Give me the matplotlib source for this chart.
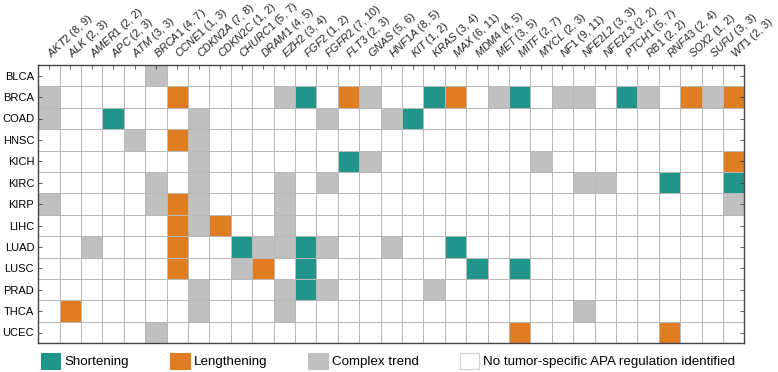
import numpy as np
import matplotlib
matplotlib.use('Agg')
import matplotlib.pyplot as plt
from matplotlib.colors import ListedColormap
from matplotlib.patches import Patch

plt.rcParams['font.family'] = ['Liberation Sans', 'DejaVu Sans']
plt.rcParams['mathtext.fontset'] = 'custom'
plt.rcParams['mathtext.it'] = 'Liberation Sans:italic'
plt.rcParams['mathtext.rm'] = 'Liberation Sans'

# genes (columns) with the two counts shown in brackets
genes = ['AKT2', 'ALK', 'AMER1', 'APC', 'ATM', 'BRCA1', 'CCNE1', 'CDKN2A', 'CDKN2C',
         'CHURC1', 'DRAM1', 'EZH2', 'FGF2', 'FGFR2', 'FLT3', 'GNAS', 'HNF1A', 'KIT',
         'KRAS', 'MAX', 'MDM4', 'MET', 'MITF', 'MYCL', 'NF1', 'NFE2L2', 'NFE2L3',
         'PTCH1', 'RB1', 'RNF43', 'SOX2', 'SUFU', 'WT1']
count_a = [8, 2, 2, 2, 3, 4, 1, 7, 1, 5, 4, 3, 1, 7, 2, 5, 8, 1, 3, 6, 4, 3, 2, 2, 9, 3, 2, 5, 2, 2, 1, 3, 2]
count_b = [9, 3, 2, 3, 3, 7, 3, 8, 2, 7, 5, 4, 2, 10, 3, 6, 5, 2, 4, 11, 5, 5, 7, 3, 11, 3, 2, 7, 2, 4, 2, 3, 3]

cancers = ['BLCA', 'BRCA', 'COAD', 'HNSC', 'KICH', 'KIRC', 'KIRP', 'LIHC', 'LUAD',
           'LUSC', 'PRAD', 'THCA', 'UCEC']

# (cancer, gene) cells for each APA class
shortening = [('BRCA', 'FGF2'), ('BRCA', 'KRAS'), ('BRCA', 'MITF'), ('BRCA', 'PTCH1'),
              ('COAD', 'APC'), ('COAD', 'KIT'), ('KICH', 'FLT3'), ('KIRC', 'RNF43'),
              ('KIRC', 'WT1'), ('LUAD', 'CHURC1'), ('LUAD', 'FGF2'), ('LUAD', 'MAX'),
              ('LUSC', 'FGF2'), ('LUSC', 'MDM4'), ('LUSC', 'MITF'), ('PRAD', 'FGF2')]
lengthening = [('BRCA', 'CCNE1'), ('BRCA', 'FLT3'), ('BRCA', 'MAX'), ('BRCA', 'SOX2'),
               ('BRCA', 'WT1'), ('HNSC', 'CCNE1'), ('KICH', 'WT1'), ('KIRP', 'CCNE1'),
               ('LIHC', 'CCNE1'), ('LIHC', 'CDKN2C'), ('LUAD', 'CCNE1'), ('LUSC', 'CCNE1'),
               ('LUSC', 'DRAM1'), ('THCA', 'ALK'), ('UCEC', 'MITF'), ('UCEC', 'RNF43')]
complex_trend = [('BLCA', 'BRCA1'),
                 ('BRCA', 'AKT2'), ('BRCA', 'EZH2'), ('BRCA', 'GNAS'), ('BRCA', 'MET'),
                 ('BRCA', 'NF1'), ('BRCA', 'NFE2L2'), ('BRCA', 'RB1'), ('BRCA', 'SUFU'),
                 ('COAD', 'AKT2'), ('COAD', 'CDKN2A'), ('COAD', 'FGFR2'), ('COAD', 'HNF1A'),
                 ('HNSC', 'ATM'), ('HNSC', 'CDKN2A'),
                 ('KICH', 'CDKN2A'), ('KICH', 'GNAS'), ('KICH', 'MYCL'),
                 ('KIRC', 'BRCA1'), ('KIRC', 'CDKN2A'), ('KIRC', 'EZH2'), ('KIRC', 'FGFR2'),
                 ('KIRC', 'NFE2L2'), ('KIRC', 'NFE2L3'),
                 ('KIRP', 'AKT2'), ('KIRP', 'BRCA1'), ('KIRP', 'CDKN2A'), ('KIRP', 'EZH2'),
                 ('KIRP', 'WT1'),
                 ('LIHC', 'CDKN2A'), ('LIHC', 'EZH2'),
                 ('LUAD', 'AMER1'), ('LUAD', 'DRAM1'), ('LUAD', 'EZH2'), ('LUAD', 'FGFR2'),
                 ('LUAD', 'HNF1A'),
                 ('LUSC', 'CHURC1'),
                 ('PRAD', 'CDKN2A'), ('PRAD', 'EZH2'), ('PRAD', 'FGFR2'), ('PRAD', 'KRAS'),
                 ('THCA', 'CDKN2A'), ('THCA', 'EZH2'), ('THCA', 'NFE2L2'),
                 ('UCEC', 'BRCA1')]

class_names = ['No tumor-specific APA regulation identified', 'Shortening', 'Lengthening', 'Complex trend']
class_colors = ['#ffffff', '#21958a', '#e07c22', '#c0c0c0']

status = np.zeros((len(cancers), len(genes)), dtype=int)
for code, cells in [(1, shortening), (2, lengthening), (3, complex_trend)]:
    for c, g in cells:
        status[cancers.index(c), genes.index(g)] = code

fig = plt.figure(figsize=(7.78, 3.72), dpi=100)
ax = fig.add_axes([38.3 / 778, 1 - 343.2 / 372, 706 / 778, 278.2 / 372])

cmap = ListedColormap(class_colors)
ax.pcolormesh(status, cmap=cmap, vmin=-0.5, vmax=3.5, edgecolors='#b8b8b8', linewidth=0.7)
ax.set_xlim(0, len(genes))
ax.set_ylim(len(cancers), 0)

ax.set_yticks(np.arange(len(cancers)) + 0.5)
ax.set_yticklabels(cancers, fontsize=8)
ax.set_xticks(np.arange(len(genes)) + 0.5)
ax.set_xticklabels([])
ax.tick_params(axis='both', direction='in', length=3, width=0.6, color='#444444',
               top=True, right=True, bottom=False, pad=3)

for s in ax.spines.values():
    s.set_color('#444444')
    s.set_linewidth(1.0)

for i, g in enumerate(genes):
    lab = r'$\mathit{' + g + '}$' + f' ({count_a[i]}, {count_b[i]})'
    ax.text(i + 0.6, -0.32, lab, rotation=43, rotation_mode='anchor',
            ha='left', va='baseline', fontsize=7.8, color='#222222')

handles = [Patch(facecolor=class_colors[k], edgecolor='#d0d0d0' if k == 0 else class_colors[k],
                 linewidth=0.8) for k in [1, 2, 3, 0]]
labels = [class_names[k] for k in [1, 2, 3, 0]]
fig.legend(handles, labels, loc='center left', bbox_to_anchor=(41 / 778, 1 - 361 / 372),
           ncol=4, frameon=False, fontsize=9.6, handlelength=1.45, handleheight=1.45,
           handletextpad=0.3, columnspacing=3.1, borderpad=0, borderaxespad=0)

fig.savefig('out.png', dpi=100)
